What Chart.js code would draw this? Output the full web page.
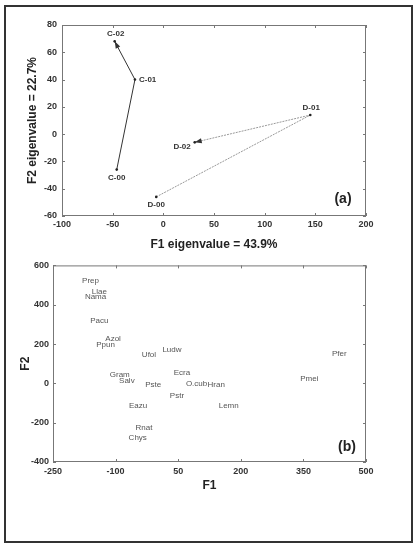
<!DOCTYPE html>
<html>
<head>
<meta charset="utf-8">
<script src="https://cdn.jsdelivr.net/npm/chart.js@4.4.1/dist/chart.umd.min.js"></script>
<style>
  body { margin: 0; background: #fff; width: 420px; height: 549px; position: relative; overflow: hidden; }
  #frame { position: absolute; left: 4px; top: 5px; width: 405px; height: 534px; border: 2px solid #333; }
  #wa { position: absolute; left: 0; top: 0; width: 420px; height: 256px; }
  #wb { position: absolute; left: 0; top: 256px; width: 420px; height: 293px; }
</style>
</head>
<body>
<div id="frame"></div>
<div id="wa"><canvas id="chartA"></canvas></div>
<div id="wb"><canvas id="chartB"></canvas></div>
<script>
// panel (a): sites through time
const siteCLabels = ['C-00', 'C-01', 'C-02'];
const siteCF1 = [-46, -28, -48];
const siteCF2 = [-26, 40, 68];
const siteDLabels = ['D-00', 'D-01', 'D-02'];
const siteDF1 = [-7, 145, 31];
const siteDF2 = [-46, 14, -6];

// panel (b): taxa scores
const taxa = ['Prep', 'Llae', 'Nama', 'Pacu', 'Azol', 'Ppun', 'Ufol', 'Ludw', 'Gram', 'Salv', 'Pste',
              'Ecra', 'O.cub', 'Hran', 'Pstr', 'Eazu', 'Lemn', 'Rnat', 'Chys', 'Pmei', 'Pfer'];
const taxaF1 = [-160, -139, -148, -139, -106, -124, -20, 35, -90, -73, -10, 59, 94, 141, 47, -46, 171, -32, -47, 364, 436];
const taxaF2 = [524, 464, 440, 316, 227, 197, 143, 172, 42, 15, -5, 54, -3, -5, -62, -113, -113, -225, -277, 23, 151];

const FONT = 'Arial, "Liberation Sans", sans-serif';
Chart.defaults.font.family = FONT;

// frame + small inward ticks on all four sides
const boxPlugin = {
  id: 'box',
  beforeDatasetsDraw(chart) {
    const { ctx, chartArea: a, scales } = chart;
    ctx.save();
    ctx.strokeStyle = '#777';
    ctx.lineWidth = 1;
    ctx.strokeRect(a.left + 0.5, a.top + 0.5, a.right - a.left - 1, a.bottom - a.top - 1);
    ctx.beginPath();
    scales.x.ticks.forEach((t, i) => {
      const px = Math.round(scales.x.getPixelForTick(i)) + 0.5;
      ctx.moveTo(px, a.bottom); ctx.lineTo(px, a.bottom - 3);
      ctx.moveTo(px, a.top); ctx.lineTo(px, a.top + 3);
    });
    scales.y.ticks.forEach((t, i) => {
      const py = Math.round(scales.y.getPixelForTick(i)) + 0.5;
      ctx.moveTo(a.left, py); ctx.lineTo(a.left + 3, py);
      ctx.moveTo(a.right, py); ctx.lineTo(a.right - 3, py);
    });
    ctx.stroke();
    ctx.restore();
  },
  afterDatasetsDraw(chart) {
    const { ctx, chartArea: a } = chart;
    ctx.save();
    chart.data.datasets.forEach((ds, di) => {
      const pts = chart.getDatasetMeta(di).data;
      if (ds.arrow && pts.length > 1) {
        const p = pts[pts.length - 1], q = pts[pts.length - 2];
        const ang = Math.atan2(p.y - q.y, p.x - q.x);
        ctx.fillStyle = ds.arrowColor;
        ctx.beginPath();
        ctx.moveTo(p.x, p.y);
        ctx.lineTo(p.x - 7 * Math.cos(ang) + 2.5 * Math.sin(ang), p.y - 7 * Math.sin(ang) - 2.5 * Math.cos(ang));
        ctx.lineTo(p.x - 7 * Math.cos(ang) - 2.5 * Math.sin(ang), p.y - 7 * Math.sin(ang) + 2.5 * Math.cos(ang));
        ctx.closePath();
        ctx.fill();
      }
      if (ds.names) {
        ctx.font = ds.nameFont;
        ctx.fillStyle = ds.nameColor;
        ctx.textBaseline = 'middle';
        pts.forEach((p, i) => {
          const off = ds.nameOffsets ? ds.nameOffsets[i] : [0, 0, 'center'];
          ctx.textAlign = off[2];
          ctx.fillText(ds.names[i], p.x + off[0], p.y + off[1]);
        });
      }
    });
    const tag = chart.options.plugins.box.tag;
    ctx.font = 'bold 14px ' + FONT;
    ctx.fillStyle = '#222';
    ctx.textAlign = 'center';
    ctx.textBaseline = 'middle';
    ctx.fillText(tag.text, a.right - tag.dx, a.bottom - tag.dy);
    ctx.restore();
  }
};

function axis(min, max, step, title, pad, fit, isY) {
  return {
    type: 'linear', min: min, max: max,
    grid: { display: false, drawTicks: false }, border: { display: false },
    ticks: { stepSize: step, padding: pad, color: '#333', font: { size: 9, weight: 'bold' } },
    title: { display: true, text: title, color: '#222', padding: { top: 4, bottom: 4 },
             font: { size: 12, weight: 'bold' } },
    afterFit: s => { if (isY) s.width = fit; else s.height = fit; }
  };
}

new Chart(document.getElementById('chartA'), {
  type: 'scatter',
  data: {
    datasets: [
      {
        data: siteCF1.map((x, i) => ({ x: x, y: siteCF2[i] })),
        showLine: true, borderColor: '#333', borderWidth: 1,
        pointRadius: 1.3, pointBackgroundColor: '#222', pointBorderWidth: 0,
        arrow: true, arrowColor: '#333',
        names: siteCLabels, nameFont: 'bold 8px ' + FONT, nameColor: '#333',
        nameOffsets: [[0, 8, 'center'], [4, 0, 'left'], [1, -8, 'center']]
      },
      {
        data: siteDF1.map((x, i) => ({ x: x, y: siteDF2[i] })),
        showLine: true, borderColor: '#999', borderWidth: 1, borderDash: [2, 1],
        pointRadius: 1.3, pointBackgroundColor: '#222', pointBorderWidth: 0,
        arrow: true, arrowColor: '#333',
        names: siteDLabels, nameFont: 'bold 8px ' + FONT, nameColor: '#333',
        nameOffsets: [[0, 8, 'center'], [1, -7, 'center'], [-4, 4, 'right']]
      }
    ]
  },
  options: {
    responsive: true, maintainAspectRatio: false, animation: false,
    layout: { padding: { left: 21, right: 54, top: 25, bottom: 0 } },
    plugins: { legend: { display: false }, tooltip: { enabled: false },
               box: { tag: { text: '(a)', dx: 23, dy: 17 } } },
    scales: {
      x: axis(-100, 200, 50, 'F1 eigenvalue = 43.9%', 3, 40, false),
      y: axis(-60, 80, 20, 'F2 eigenvalue = 22.7%', 5, 41, true)
    }
  },
  plugins: [boxPlugin]
});

new Chart(document.getElementById('chartB'), {
  type: 'scatter',
  data: {
    datasets: [{
      data: taxaF1.map((x, i) => ({ x: x, y: taxaF2[i] })),
      pointRadius: 0,
      names: taxa, nameFont: '8px ' + FONT, nameColor: '#555'
    }]
  },
  options: {
    responsive: true, maintainAspectRatio: false, animation: false,
    layout: { padding: { left: 14, right: 54, top: 8, bottom: 52 } },
    plugins: { legend: { display: false }, tooltip: { enabled: false },
               box: { tag: { text: '(b)', dx: 19, dy: 15 } } },
    scales: {
      x: axis(-250, 500, 150, 'F1', 4, 35, false),
      y: axis(-400, 600, 200, 'F2', 4, 39, true)
    }
  },
  plugins: [boxPlugin]
});
</script>
</body>
</html>
